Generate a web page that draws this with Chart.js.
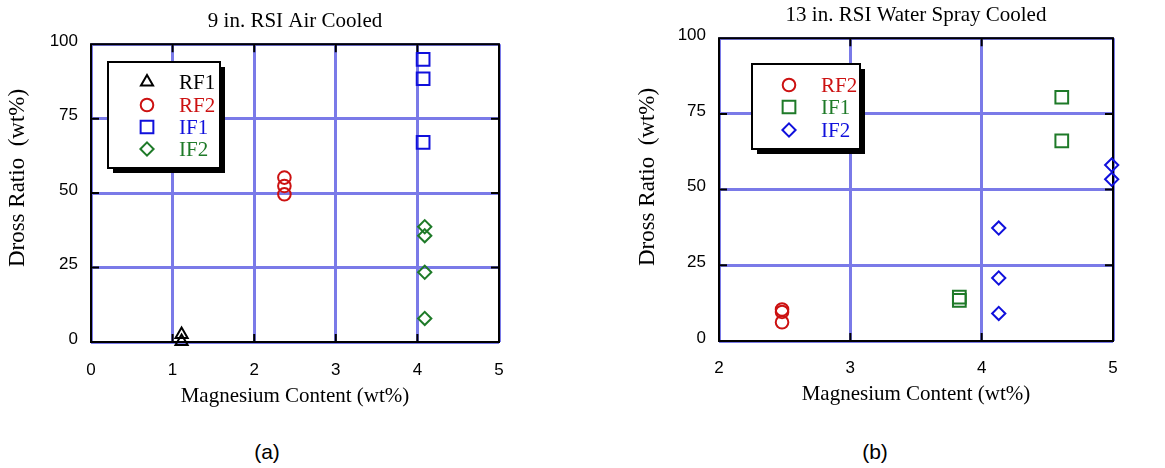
<!DOCTYPE html>
<html><head><meta charset="utf-8">
<script src="https://cdn.jsdelivr.net/npm/chart.js@4.4.1/dist/chart.umd.min.js"></script>
<style>
html,body{margin:0;padding:0;background:#fff}
body{width:1165px;height:468px;overflow:hidden;position:relative;font-family:"Liberation Sans",Arial,sans-serif}
#wa{position:absolute;left:0;top:0;width:540px;height:412px}
#wb{position:absolute;left:600px;top:0;width:565px;height:411px}
.cap{position:absolute;top:439px;width:80px;text-align:center;font-size:21px;line-height:26px;color:#000}
</style>
</head><body>
<div id="wa"><canvas id="ca"></canvas></div>
<div id="wb"><canvas id="cb"></canvas></div>
<div class="cap" style="left:227px">(a)</div>
<div class="cap" style="left:835px">(b)</div>
<script>
// ---- data: chart (a) 9 in. RSI Air Cooled ----
const titleA = '9 in. RSI Air Cooled';
const xTicksA = [0, 1, 2, 3, 4, 5];
const yTicksA = [0, 25, 50, 75, 100];
const aRF1 = [{x:1.11, y:2.5}, {x:1.11, y:0.2}];
const aRF2 = [{x:2.37, y:55.2}, {x:2.37, y:52.4}, {x:2.37, y:49.6}];
const aIF1 = [{x:4.07, y:94.9}, {x:4.07, y:88.4}, {x:4.07, y:67.0}];
const aIF2 = [{x:4.09, y:38.7}, {x:4.09, y:35.7}, {x:4.09, y:23.4}, {x:4.09, y:7.9}];

// ---- data: chart (b) 13 in. RSI Water Spray Cooled ----
const titleB = '13 in. RSI Water Spray Cooled';
const xTicksB = [2, 3, 4, 5];
const yTicksB = [0, 25, 50, 75, 100];
const bRF2 = [{x:2.48, y:10.4}, {x:2.48, y:9.6}, {x:2.48, y:6.2}];
const bIF1 = [{x:3.83, y:14.5}, {x:3.83, y:13.4}, {x:4.61, y:80.5}, {x:4.61, y:66.1}];
const bIF2 = [{x:4.13, y:37.3}, {x:4.13, y:20.8}, {x:4.13, y:9.1}, {x:4.99, y:58.1}, {x:4.99, y:53.4}];

const xTitle = 'Magnesium Content (wt%)';
const yTitle = 'Dross Ratio  (wt%)';

const RED = '#cc1111', BLUE = '#1010dc', GREEN = '#1e7a28', BLACK = '#000';
const GRID = '#7a7ae8';
const SERIF = '"Liberation Serif","Times New Roman",serif';
const SANS = '"Liberation Sans",Arial,sans-serif';

const STYLE = {
  triangle: {pointStyle:'triangle', r:7},
  circle: {pointStyle:'circle', r:6.3},
  rect: {pointStyle:'rect', r:9},
  rectRot: {pointStyle:'rectRot', r:6.6}
};

function ds(label, data, shape, color){
  return {label, data, pointStyle: STYLE[shape].pointStyle, pointRadius: STYLE[shape].r,
    pointHoverRadius: STYLE[shape].r, borderColor: color, backgroundColor: 'rgba(0,0,0,0)',
    pointBorderWidth: 2, showLine: false, clip: false};
}

function drawMarker(ctx, style, r, x, y, color){
  ctx.save();
  ctx.strokeStyle = color; ctx.lineWidth = 2;
  ctx.beginPath();
  if (style === 'circle') { ctx.arc(x, y, r, 0, Math.PI*2); }
  else if (style === 'rect') { const s = Math.SQRT1_2*r; ctx.rect(x-s, y-s, 2*s, 2*s); }
  else if (style === 'rectRot') { ctx.moveTo(x, y-r); ctx.lineTo(x+r, y); ctx.lineTo(x, y+r); ctx.lineTo(x-r, y); ctx.closePath(); }
  else if (style === 'triangle') {
    for (let i=0;i<3;i++){ const a = i*2*Math.PI/3; const px = x + Math.sin(a)*r, py = y - Math.cos(a)*r; if(i===0) ctx.moveTo(px,py); else ctx.lineTo(px,py); }
    ctx.closePath();
  }
  ctx.stroke();
  ctx.restore();
}

function framePlugin(opt){
  return {
    id: 'frame',
    beforeDatasetsDraw(chart){
      const {ctx, chartArea:a} = chart;
      const xs = chart.scales.x, ys = chart.scales.y;
      ctx.save();
      ctx.strokeStyle = BLACK; ctx.lineWidth = 2;
      ctx.strokeRect(a.left, a.top, a.right-a.left, a.bottom-a.top);
      ctx.beginPath();
      const L = 8;
      xs.ticks.forEach(t => {
        if (t.value === xs.min || t.value === xs.max) return;
        const px = xs.getPixelForValue(t.value);
        ctx.moveTo(px, a.top); ctx.lineTo(px, a.top+L);
        ctx.moveTo(px, a.bottom); ctx.lineTo(px, a.bottom-L);
      });
      ys.ticks.forEach(t => {
        if (t.value === ys.min || t.value === ys.max) return;
        const py = ys.getPixelForValue(t.value);
        ctx.moveTo(a.left, py); ctx.lineTo(a.left+L, py);
        ctx.moveTo(a.right, py); ctx.lineTo(a.right-L, py);
      });
      ctx.stroke();
      ctx.restore();
    },
    afterDraw(chart){
      const ctx = chart.ctx;
      ctx.save();
      // y axis title
      ctx.translate(opt.yTitleX, opt.yTitleY);
      ctx.rotate(-Math.PI/2);
      ctx.font = '23px ' + SERIF;
      ctx.fillStyle = BLACK; ctx.textAlign = 'center'; ctx.textBaseline = 'middle';
      ctx.fillText(yTitle, 0, 0);
      ctx.restore();
      // legend box with drop shadow
      const b = opt.box;
      ctx.save();
      ctx.fillStyle = BLACK;
      ctx.fillRect(b.x+5, b.y+5, b.w, b.h);
      ctx.fillStyle = '#fff';
      ctx.fillRect(b.x, b.y, b.w, b.h);
      ctx.strokeStyle = BLACK; ctx.lineWidth = 2;
      ctx.strokeRect(b.x, b.y, b.w, b.h);
      ctx.font = '21px ' + SERIF; ctx.textBaseline = 'middle'; ctx.textAlign = 'left';
      chart.data.datasets.forEach((d, i) => {
        const y = opt.rowY[i];
        drawMarker(ctx, d.pointStyle, d.pointRadius, opt.symX, y, d.borderColor);
        ctx.fillStyle = d.borderColor;
        ctx.fillText(d.label, opt.textX, y+1);
      });
      ctx.restore();
    }
  };
}

function makeChart(id, cfg){
  const tickFont = {family: SANS, size: 17};
  return new Chart(document.getElementById(id), {
    type: 'scatter',
    data: {datasets: cfg.datasets},
    options: {
      responsive: true, maintainAspectRatio: false, animation: false,
      events: [],
      layout: {padding: {left: 0, right: cfg.padRight, top: 0, bottom: 0}},
      plugins: {
        legend: {display: false}, tooltip: {enabled: false},
        title: {display: true, text: cfg.title, color: BLACK, fullSize: false,
          font: {family: SERIF, size: 21, weight: 'normal', lineHeight: 1.2},
          padding: {top: cfg.titleTop, bottom: cfg.titleBottom}}
      },
      scales: {
        x: {type: 'linear', min: cfg.xTicks[0], max: cfg.xTicks[cfg.xTicks.length-1],
          afterBuildTicks(s){ s.ticks = cfg.xTicks.map(v => ({value: v})); },
          ticks: {color: BLACK, font: tickFont, padding: cfg.xTickPad, maxRotation: 0},
          grid: {color: GRID, lineWidth: 3, drawTicks: false},
          border: {display: false},
          title: {display: true, text: xTitle, color: BLACK, font: {family: SERIF, size: 21, lineHeight: 1.2},
            padding: {top: 0, bottom: cfg.xTitlePadB}},
          afterFit(s){ s.height = 70; }
        },
        y: {type: 'linear', min: 0, max: 100,
          afterBuildTicks(s){ s.ticks = cfg.yTicks.map(v => ({value: v})); },
          ticks: {color: BLACK, font: tickFont, padding: 13, labelOffset: -3},
          grid: {color: GRID, lineWidth: 3, drawTicks: false},
          border: {display: false},
          afterFit(s){ s.width = cfg.yWidth; }
        }
      }
    },
    plugins: [framePlugin(cfg.frame)]
  });
}

makeChart('ca', {
  title: titleA, xTicks: xTicksA, yTicks: yTicksA,
  padRight: 41, titleTop: 9, titleBottom: 10, xTickPad: 18, xTitlePadB: 3, yWidth: 91,
  datasets: [ds('RF1', aRF1, 'triangle', BLACK), ds('RF2', aRF2, 'circle', RED),
             ds('IF1', aIF1, 'rect', BLUE), ds('IF2', aIF2, 'rectRot', GREEN)],
  frame: {yTitleX: 18, yTitleY: 178, box: {x: 108, y: 62, w: 112, h: 106},
          symX: 147, textX: 179, rowY: [82, 105, 127, 149]}
});

makeChart('cb', {
  title: titleB, xTicks: xTicksB, yTicks: yTicksB,
  padRight: 52, titleTop: 3, titleBottom: 10, xTickPad: 17, xTitlePadB: 4, yWidth: 119,
  datasets: [ds('RF2', bRF2, 'circle', RED), ds('IF1', bIF1, 'rect', GREEN), ds('IF2', bIF2, 'rectRot', BLUE)],
  frame: {yTitleX: 48, yTitleY: 177, box: {x: 152, y: 64, w: 108, h: 85},
          symX: 189, textX: 221, rowY: [85, 107, 130]}
});
</script>
</body></html>
